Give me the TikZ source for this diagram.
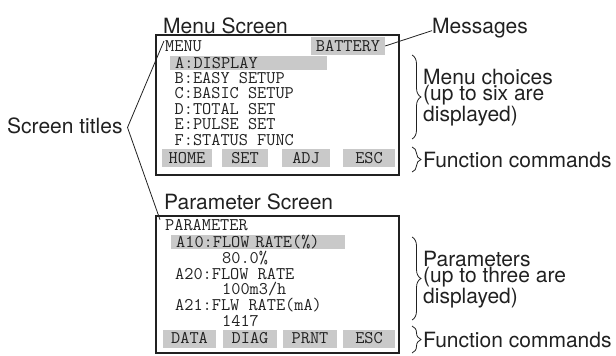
\documentclass[tikz,border=0pt]{standalone}
\usepackage{fontspec}
\setmainfont{TeX Gyre Heros}
\usetikzlibrary{decorations.pathreplacing,positioning}

\definecolor{ink}{gray}{0.13}
\definecolor{keygray}{gray}{0.79}

\tikzset{
  screen/.style={draw=ink, line width=1.3pt},
  lcd/.style={font=\fontsize{17.8}{17.8}\selectfont\ttfamily, text=ink, inner sep=0pt, anchor=base west},
  hlbar/.style={lcd, anchor=west, fill=keygray, text width=#1, align=left,
                inner xsep=5pt, inner ysep=2pt, text height=10pt, text depth=0pt},
  softkey/.style={lcd, anchor=center, fill=keygray, minimum width=#1, inner xsep=0pt,
                inner ysep=4pt, text height=10pt, text depth=0pt},
  caption/.style={font=\fontsize{21}{15.7}\selectfont, text=ink, inner sep=0pt, anchor=base west, align=left},
  callout/.style={draw=ink, line width=0.8pt},
  bracket/.style={callout, decorate, decoration={brace, amplitude=9pt}}
}

\begin{document}
\begin{tikzpicture}[x=1pt, y=-1pt]
\useasboundingbox (0,0) rectangle (616,356);

% menu screen
\node[caption] (menucap) at (163,33) {Menu Screen};
\draw[screen] (156,35) rectangle (399,175);

\node[lcd] (menutitle) at (165,51) {MENU};
\node[softkey=74pt] (battery) at (348,46) {BATTERY};

\node[hlbar=147pt] (itemA) at (170,63) {A:DISPLAY};
\node[lcd] (itemB) at (174.5,83.4) {B:EASY SETUP};
\node[lcd] (itemC) at (174.5,98.8) {C:BASIC SETUP};
\node[lcd] (itemD) at (174.5,114.2) {D:TOTAL SET};
\node[lcd] (itemE) at (174.5,129.6) {E:PULSE SET};
\node[lcd] (itemF) at (174.5,145) {F:STATUS FUNC};

\node[softkey=50pt] (home) at (187,158) {HOME};
\node[softkey=46pt] (set) at (245,158) {SET};
\node[softkey=48pt] (adj) at (306,158) {ADJ};
\node[softkey=52pt] (escA) at (369,158) {ESC};

% parameter screen
\node[caption] (paramcap) at (164,209) {Parameter Screen};
\draw[screen] (156,216) rectangle (399,353);

\node[lcd] (paramtitle) at (165,230) {PARAMETER};
\node[hlbar=164pt] (pA10) at (171,242) {A10:FLOW RATE(\%)};
\node[lcd] (vA10) at (222,263.6) {80.0\%};
\node[lcd] (pA20) at (175,279.2) {A20:FLOW RATE};
\node[lcd] (vA20) at (222,294.8) {100m3/h};
\node[lcd] (pA21) at (175,310.4) {A21:FLW RATE(mA)};
\node[lcd] (vA21) at (222,326) {1417};

\node[softkey=53pt] (data) at (189.5,338.5) {DATA};
\node[softkey=54pt] (diag) at (250,338.5) {DIAG};
\node[softkey=54pt] (prnt) at (310,338.5) {PRNT};
\node[softkey=52pt] (escB) at (369,338.5) {ESC};

% screen titles
\node[caption] (titles) at (7,133) {Screen titles};
\coordinate (titletip) at (127.5,127.5);
\draw[callout] ([xshift=-1pt,yshift=-1pt]menutitle.north west) -- (titletip) -- ([xshift=-5pt,yshift=-1pt]paramtitle.north west);

% messages
\node[caption] (messages) at (432,33) {Messages};
\draw[callout] (battery.east) -- ([yshift=-3pt]messages.west);

% braces and their labels
\draw[bracket] (412,55) -- (412,139);
\node[caption] (choices) at (423,121) {Menu choices\\(up to six are\\displayed)};
\draw[bracket] (412,147) -- (412,172);
\node[caption] (funcA) at (423,167) {Function commands};

\draw[bracket] (412,237) -- (412,320);
\node[caption] (params) at (423,303) {Parameters\\(up to three are\\displayed)};
\draw[bracket] (412,326) -- (412,353);
\node[caption] (funcB) at (423,347.5) {Function commands};

\end{tikzpicture}
\end{document}
